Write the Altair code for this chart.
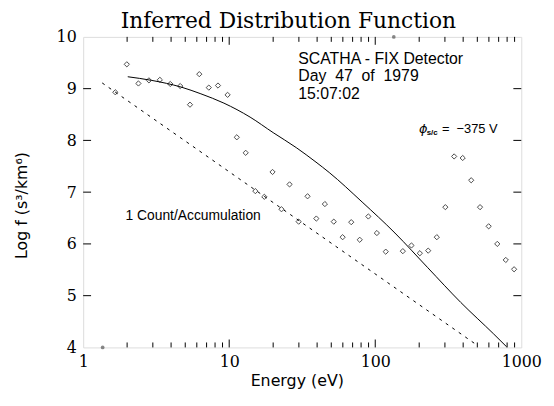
import altair as alt
import pandas as pd

# measured points (Energy eV, log f)
pt_E = [1.66, 1.99, 2.39, 2.82, 3.35, 3.95, 4.62, 5.39, 6.24, 7.25, 8.38, 9.75,
        11.27, 12.97, 15.1, 17.4, 19.8, 22.8, 25.9, 29.9, 34.4, 39.5, 45.2, 52.0,
        59.8, 68.5, 78.3, 89.7, 102.6, 118, 154.5, 177, 202, 230.5, 264, 302,
        347, 397, 454, 522, 598, 685, 783, 893]
pt_f = [8.93, 9.47, 9.10, 9.16, 9.17, 9.09, 9.05, 8.69, 9.28, 9.02, 9.06, 8.88,
        8.06, 7.76, 7.02, 6.91, 7.39, 6.67, 7.15, 6.43, 6.92, 6.49, 6.77, 6.43,
        6.13, 6.42, 6.08, 6.53, 6.21, 5.85, 5.86, 5.97, 5.82, 5.87, 6.13, 6.71,
        7.69, 7.66, 7.23, 6.71, 6.34, 6.00, 5.69, 5.51]

# fitted (inferred) distribution curve
fit_E = [2.02, 2.94, 4.69, 6.40, 9.2, 13.9, 20.0, 28.8, 39.3, 48.4, 81.3,
         136.5, 229.0, 385.0, 647.0, 795.0]
fit_f = [9.23, 9.16, 9.03, 8.90, 8.72, 8.45, 8.15, 7.86, 7.58, 7.38, 6.81,
         6.21, 5.54, 4.87, 4.26, 4.01]

# one count / accumulation level
cnt_E = [1.35, 500.0]
cnt_f = [9.11, 4.04]

# off-scale points drawn on the frame
off_E = [1.36, 134.0]
off_f = [4.0, 10.0]

x_labels = [1, 10, 100, 1000]
x_major = [10, 100]
x_minor = [2, 3, 4, 5, 6, 7, 8, 9, 20, 30, 40, 50, 60, 70, 80, 90,
           200, 300, 400, 500, 600, 700, 800, 900]
y_ticks = [5, 6, 7, 8, 9]

NB = "\u00a0"
info_lines = ["SCATHA - FIX Detector", f"Day{NB}{NB}47{NB}{NB}of{NB}{NB}1979", "15:07:02"]
info_E = [29.7, 29.7, 29.7]
info_f = [9.57, 9.235, 8.89]

W, H = 443, 314

xs = alt.Scale(type="log", domain=[1, 1000])
ys = alt.Scale(domain=[4, 10])

pts = pd.DataFrame({"E": pt_E, "f": pt_f})
fit = pd.DataFrame({"E": fit_E, "f": fit_f})
cnt = pd.DataFrame({"E": cnt_E, "f": cnt_f})
off = pd.DataFrame({"E": off_E, "f": off_f})

x_axis = alt.Axis(values=x_labels, labelExpr="datum.value", domain=False, ticks=False,
                  grid=False, labelFont="DejaVu Serif", labelFontSize=16,
                  labelColor="black", labelPadding=6, labelFlush=False,
                  title="Energy (eV)", titleFont="DejaVu Sans", titleFontSize=16,
                  titleFontWeight="normal", titleColor="black",
                  titleX=216, titleY=34, titleBaseline="middle")
y_axis = alt.Axis(values=[4, 5, 6, 7, 8, 9, 10], domain=False, ticks=False, grid=False,
                  labelFont="DejaVu Serif", labelFontSize=16, labelColor="black",
                  labelPadding=7, labelFlush=False,
                  title="Log f (s³/km⁶)", titleFont="DejaVu Sans", titleFontSize=16,
                  titleFontWeight="normal", titleColor="black",
                  titleX=-62, titleY=170, titleAngle=-90, titleBaseline="middle")

base_x = alt.X("E:Q", scale=xs, axis=x_axis)
base_y = alt.Y("f:Q", scale=ys, axis=y_axis)

fit_line = alt.Chart(fit).mark_line(color="black", strokeWidth=1,
                                    interpolate="monotone").encode(x=base_x, y=base_y)
cnt_line = alt.Chart(cnt).mark_line(color="black", strokeWidth=1, strokeDash=[3, 5]).encode(
    x=alt.X("E:Q", scale=xs), y=alt.Y("f:Q", scale=ys))
points = alt.Chart(pts).mark_point(shape="diamond", filled=False, color="black",
                                   size=28, strokeWidth=1).encode(
    x=alt.X("E:Q", scale=xs), y=alt.Y("f:Q", scale=ys))
offpts = alt.Chart(off).mark_point(shape="circle", filled=True, color="#555555",
                                   size=14, clip=False).encode(
    x=alt.X("E:Q", scale=xs), y=alt.Y("f:Q", scale=ys))

maj = pd.DataFrame({"E": x_major})
mnr = pd.DataFrame({"E": x_minor})
yt = pd.DataFrame({"f": y_ticks})

def xt(df, y0, y1):
    return alt.Chart(df).mark_rule(color="black", strokeWidth=1).encode(
        x=alt.X("E:Q", scale=xs), y=alt.value(y0), y2=alt.value(y1))

def ytk(x0, x1):
    return alt.Chart(yt).mark_rule(color="black", strokeWidth=1).encode(
        y=alt.Y("f:Q", scale=ys), x=alt.value(x0), x2=alt.value(x1))

ticks = [xt(maj, H, H - 8), xt(mnr, H, H - 5), xt(maj, 0, 8), xt(mnr, 0, 5),
         ytk(0, 8), ytk(W, W - 8)]

info = pd.DataFrame({"E": info_E, "f": info_f, "t": info_lines})
info_txt = alt.Chart(info).mark_text(align="left", baseline="middle", font="Liberation Sans",
                                     fontSize=16, color="black").encode(
    x=alt.X("E:Q", scale=xs), y=alt.Y("f:Q", scale=ys), text="t:N")

cnt_lab = pd.DataFrame({"E": [1.95], "f": [6.545], "t": ["1 Count/Accumulation"]})
cnt_txt = alt.Chart(cnt_lab).mark_text(align="left", baseline="middle", font="Liberation Sans",
                                       fontSize=14, color="black").encode(
    x=alt.X("E:Q", scale=xs), y=alt.Y("f:Q", scale=ys), text="t:N")

phi = pd.DataFrame({"E": [199.0], "f": [8.22], "t": ["ϕ"]})
phi_txt = alt.Chart(phi).mark_text(align="left", baseline="middle", font="DejaVu Sans",
                                   fontSize=13, fontStyle="italic", color="black").encode(
    x=alt.X("E:Q", scale=xs), y=alt.Y("f:Q", scale=ys), text="t:N")
sub = pd.DataFrame({"E": [225.0], "f": [8.15], "t": ["s/c"]})
sub_txt = alt.Chart(sub).mark_text(align="left", baseline="middle", font="Liberation Sans",
                                   fontSize=8, fontWeight="bold", color="black").encode(
    x=alt.X("E:Q", scale=xs), y=alt.Y("f:Q", scale=ys), text="t:N")
eqv = pd.DataFrame({"E": [286.0], "f": [8.22], "t": [f"={NB}{NB}−375{NB}V"]})
eqv_txt = alt.Chart(eqv).mark_text(align="left", baseline="middle", font="Liberation Sans",
                                   fontSize=13, color="black").encode(
    x=alt.X("E:Q", scale=xs), y=alt.Y("f:Q", scale=ys), text="t:N")

chart = alt.layer(fit_line, cnt_line, points, *ticks, info_txt, cnt_txt,
                  phi_txt, sub_txt, eqv_txt, offpts).properties(
    width=W, height=H,
    title=alt.TitleParams("Inferred Distribution Function", font="DejaVu Serif",
                          fontSize=22, fontWeight="normal", color="black",
                          anchor="middle", dx=-14, dy=4, offset=0),
    autosize=alt.AutoSizeParams(type="none"),
    padding={"left": 76, "top": 27, "right": 25, "bottom": 55},
).configure_view(stroke="black", strokeWidth=1.5).configure(background="white")

chart.save("out.html", embed_options={"renderer": "svg", "actions": False})
